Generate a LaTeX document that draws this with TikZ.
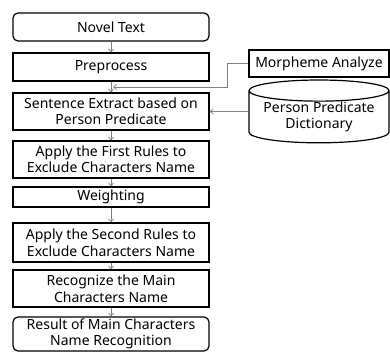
\documentclass[tikz,border=0pt]{standalone}
\usepackage{fontspec}
\setmainfont{Noto Sans}
\usetikzlibrary{shapes.geometric, arrows.meta}

\begin{document}
\begin{tikzpicture}[x=1pt, y=-1pt,
    font=\fontsize{14}{16.5}\selectfont,
    step box/.style={draw, line width=1.2pt, minimum width=196pt, align=center, inner sep=0pt},
    end box/.style={step box, rounded corners=5pt},
    side box/.style={draw, line width=1.2pt, minimum width=140pt, minimum height=27pt, inner sep=0pt},
    link/.style={draw=gray, line width=0.7pt, -{Straight Barb[length=3pt, width=5pt]}}]
    \useasboundingbox (0,0) rectangle (390,352);

    % main column
    \node[end box, minimum height=28pt] (novel) at (111,27) {Novel Text};
    \node[step box, minimum height=28pt] (pre) at (111,67) {Preprocess};
    \node[step box, minimum height=37pt] (sent) at (111,111.5) {Sentence Extract based on\\Person Predicate};
    \node[step box, minimum height=37pt] (first) at (111,159.5) {Apply the First Rules to\\Exclude Characters Name};
    \node[step box, minimum height=20pt] (weight) at (111,197) {Weighting};
    \node[step box, minimum height=39pt] (second) at (111,242.5) {Apply the Second Rules to\\Exclude Characters Name};
    \node[step box, minimum height=37pt] (recog) at (111,288.5) {Recognize the Main\\Characters Name};
    \node[end box, minimum height=34pt] (result) at (111,334) {Result of Main Characters\\Name Recognition};

    \draw[link] (novel) -- (pre);
    \draw[link] (pre) -- (sent);
    \draw[link] (sent) -- (first);
    \draw[link] (first) -- (weight);
    \draw[link] (weight) -- (second);
    \draw[link] (second) -- (recog);
    \draw[link] (recog) -- (result);

    % side inputs
    \node[side box] (morph) at (319,63.5) {Morpheme Analyze};
    \node[draw, line width=1.2pt, shape=cylinder, shape border rotate=90, aspect=0.19,
          minimum width=140pt, minimum height=53pt, inner sep=0pt, align=center]
          (dict) at (319,117) {Person Predicate\\Dictionary};

    \coordinate (join) at (113,87);
    \draw[link] (morph.west) -- ++(-21,0) |- (join);
    \draw[link] (dict.west |- sent.east) -- (sent.east);
\end{tikzpicture}
\end{document}
